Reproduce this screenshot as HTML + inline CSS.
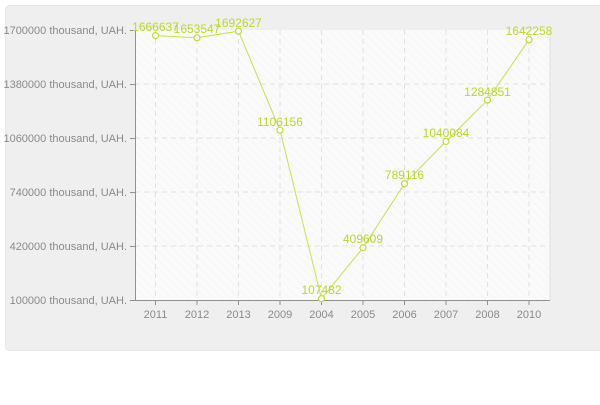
<!DOCTYPE html>
<html><head><style>
body{margin:0;background:#fff;width:600px;height:400px;overflow:hidden}
</style></head><body>
<svg width="600" height="400" xmlns="http://www.w3.org/2000/svg" font-family="Liberation Sans, DejaVu Sans, sans-serif">
<defs>
<pattern id="h" width="6" height="6" patternUnits="userSpaceOnUse" patternTransform="rotate(-45)">
<rect width="6" height="6" fill="#fafafa"/><line x1="0" y1="0" x2="0" y2="6" stroke="#f2f2f2" stroke-width="1"/>
</pattern>
</defs>
<rect x="5.5" y="5.5" width="600" height="345" rx="4" fill="#efefef" stroke="#e8e8e8"/>
<rect x="135" y="30" width="415" height="270" fill="url(#h)"/>
<g stroke="#e2e2e2" stroke-dasharray="5,4">
<line x1="135" y1="84" x2="550" y2="84"/><line x1="135" y1="138" x2="550" y2="138"/>
<line x1="135" y1="192" x2="550" y2="192"/><line x1="135" y1="246" x2="550" y2="246"/>
<line x1="155.5" y1="30" x2="155.5" y2="300"/><line x1="197" y1="30" x2="197" y2="300"/>
<line x1="238.5" y1="30" x2="238.5" y2="300"/><line x1="280" y1="30" x2="280" y2="300"/>
<line x1="321.5" y1="30" x2="321.5" y2="300"/><line x1="363" y1="30" x2="363" y2="300"/>
<line x1="404.5" y1="30" x2="404.5" y2="300"/><line x1="446" y1="30" x2="446" y2="300"/>
<line x1="487.5" y1="30" x2="487.5" y2="300"/><line x1="529" y1="30" x2="529" y2="300"/>
</g>
<line x1="550" y1="30" x2="550" y2="300" stroke="#e0e0e0"/>
<g stroke="#909090">
<line x1="135.5" y1="30" x2="135.5" y2="300"/><line x1="135" y1="300.5" x2="550" y2="300.5"/>
<line x1="130" y1="30.5" x2="135" y2="30.5"/><line x1="130" y1="84.5" x2="135" y2="84.5"/>
<line x1="130" y1="138.5" x2="135" y2="138.5"/><line x1="130" y1="192.5" x2="135" y2="192.5"/>
<line x1="130" y1="246.5" x2="135" y2="246.5"/><line x1="130" y1="300.5" x2="135" y2="300.5"/>
<line x1="155.5" y1="300" x2="155.5" y2="305"/><line x1="197" y1="300" x2="197" y2="305"/>
<line x1="238.5" y1="300" x2="238.5" y2="305"/><line x1="280" y1="300" x2="280" y2="305"/>
<line x1="321.5" y1="300" x2="321.5" y2="305"/><line x1="363" y1="300" x2="363" y2="305"/>
<line x1="404.5" y1="300" x2="404.5" y2="305"/><line x1="446" y1="300" x2="446" y2="305"/>
<line x1="487.5" y1="300" x2="487.5" y2="305"/><line x1="529" y1="300" x2="529" y2="305"/>
</g>
<g fill="#8a8a8a" font-size="11" text-anchor="end">
<text x="127" y="34">1700000 thousand, UAH.</text>
<text x="127" y="88">1380000 thousand, UAH.</text>
<text x="127" y="142">1060000 thousand, UAH.</text>
<text x="127" y="196">740000 thousand, UAH.</text>
<text x="127" y="250">420000 thousand, UAH.</text>
<text x="127" y="304">100000 thousand, UAH.</text>
</g>
<g fill="#8a8a8a" font-size="11" text-anchor="middle">
<text x="155.5" y="318">2011</text><text x="197" y="318">2012</text><text x="238.5" y="318">2013</text>
<text x="280" y="318">2009</text><text x="321.5" y="318">2004</text><text x="363" y="318">2005</text>
<text x="404.5" y="318">2006</text><text x="446" y="318">2007</text><text x="487.5" y="318">2008</text>
<text x="529" y="318">2010</text>
</g>
<polyline fill="none" stroke="#c8e04a" stroke-width="1" points="155.5,35.6 197,37.8 238.5,31.2 280,130.2 321.5,298.7 363,247.8 404.5,183.7 446,141.4 487.5,100.1 529,39.7"/>
<g fill="#fff" stroke="#c0dc30" stroke-width="1.2">
<circle cx="155.5" cy="35.6" r="3"/><circle cx="197" cy="37.8" r="3"/><circle cx="238.5" cy="31.2" r="3"/>
<circle cx="280" cy="130.2" r="3"/><circle cx="321.5" cy="298.7" r="3"/><circle cx="363" cy="247.8" r="3"/>
<circle cx="404.5" cy="183.7" r="3"/><circle cx="446" cy="141.4" r="3"/><circle cx="487.5" cy="100.1" r="3"/>
<circle cx="529" cy="39.7" r="3"/>
</g>
<g fill="#bcd82a" font-size="12" text-anchor="middle">
<text x="155.5" y="31">1666637</text><text x="197" y="33">1653547</text><text x="238.5" y="27">1692627</text>
<text x="280" y="126">1106156</text><text x="321.5" y="294">107482</text><text x="363" y="243">409609</text>
<text x="404.5" y="179">789116</text><text x="446" y="137">1040084</text><text x="487.5" y="96">1284851</text>
<text x="529" y="35">1642258</text>
</g>
</svg>
</body></html>
